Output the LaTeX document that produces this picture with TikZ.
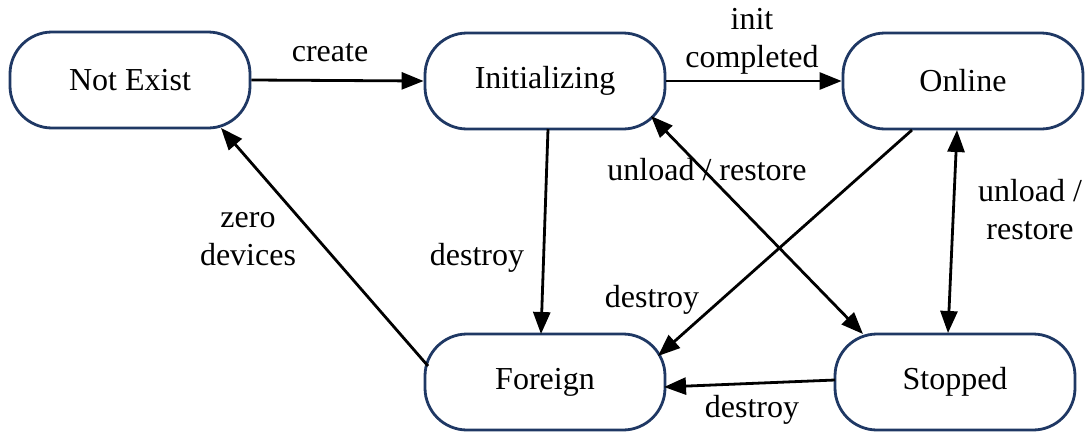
\documentclass[tikz,border=0pt]{standalone}
\usepackage{fontspec}
\setmainfont{Liberation Serif}
\usetikzlibrary{arrows.meta,calc}
\definecolor{navy}{RGB}{31,56,100}
\begin{document}
\begin{tikzpicture}[x=1pt,y=-1pt,
  state/.style={draw=navy,line width=2.8pt,rectangle,rounded corners=42pt,
    minimum width=240pt,minimum height=96pt,inner sep=0pt,
    font=\fontsize{32}{38}\selectfont},
  lab/.style={font=\fontsize{32}{38}\selectfont,align=center,inner sep=0pt},
  conn/.style={line width=2.8pt,-{Triangle[length=22pt,width=17pt]}},
  dconn/.style={line width=2.8pt,{Triangle[length=22pt,width=17pt]}-{Triangle[length=22pt,width=17pt]}}]
\useasboundingbox (0,0) rectangle (1092,434);
\node[state] (ne) at (130,80) {Not Exist};
\node[state] (ini) at (545,81) {Initializing};
\node[state] (on) at (963,81) {Online};
\node[state] (fo) at (545,382) {Foreign};
\node[state] (st) at (955,382) {Stopped};

\draw[conn] (ne.east) -- (ini.west);
\draw[conn] (ini.east) -- (on.west);
\draw[conn] ($(ini)+(3,48)$) -- ($(fo)+(-4,-48)$);
\draw[conn] ($(on)+(-51,49)$) -- ($(fo)+(113,-26)$);
\draw[dconn] ($(ini)+(106,35)$) -- ($(st)+(-92,-48)$);
\draw[dconn] ($(on)+(-6,49)$) -- ($(st)+(-7,-49)$);
\draw[conn] ($(st)+(-120,-2)$) -- ($(fo)+(119,5)$);
\draw[conn] ($(fo)+(-117,-16)$) -- ($(ne)+(91,48)$);

\node[lab] (l1) at (330,53) {create};
\node[lab] (l2) at (752,41) {init\\completed};
\node[lab] (l3) at (477,258) {destroy};
\node[lab] (l4) at (707,170) {unload / restore};
\node[lab] (l5) at (652,300) {destroy};
\node[lab] (l6) at (1030,210) {unload /\\restore};
\node[lab] (l7) at (248,239) {zero\\devices};
\node[lab] (l8) at (752,410) {destroy};
\end{tikzpicture}
\end{document}
